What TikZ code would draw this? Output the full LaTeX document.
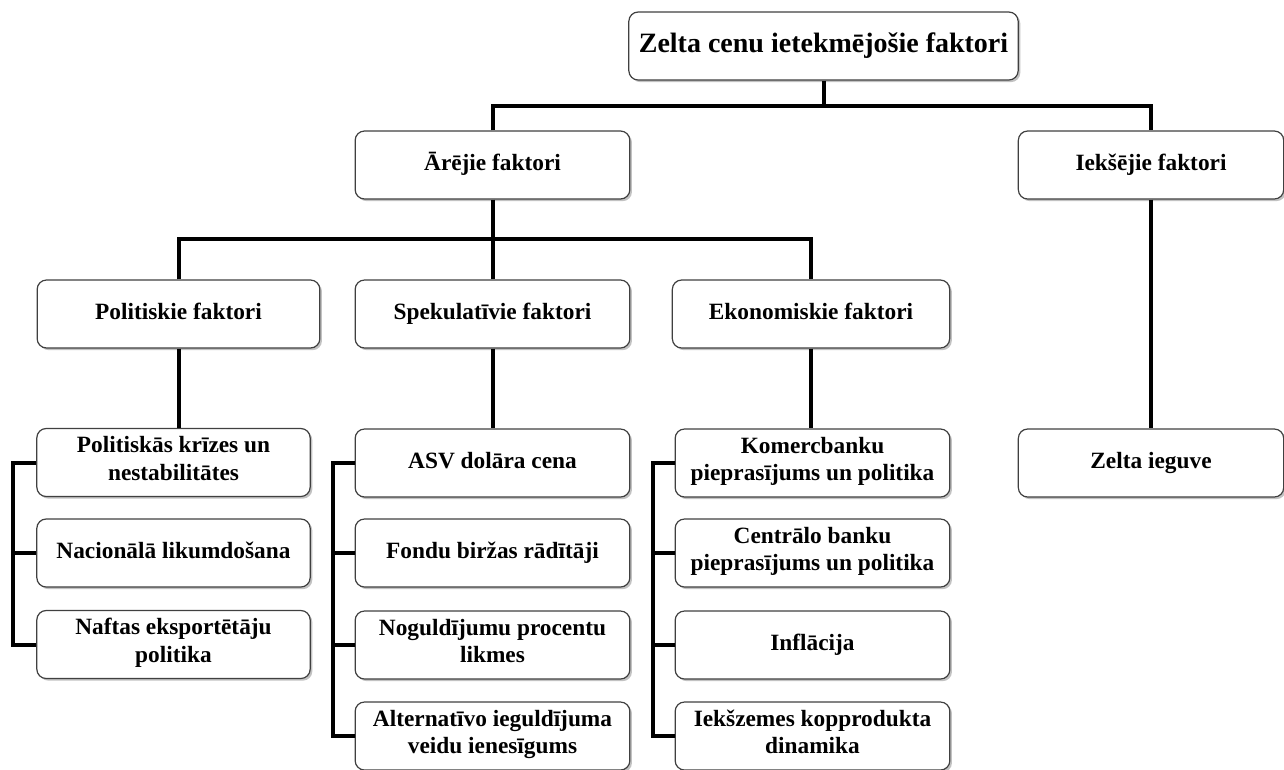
\documentclass[tikz,border=0pt]{standalone}
\usepackage{fontspec}
\setmainfont{Liberation Serif}
\usetikzlibrary{shadows}
\tikzset{
  box/.style={draw=black!75, line width=0.9pt, rounded corners=7pt, fill=white,
    minimum height=51pt, inner sep=2pt, align=center,
    font=\bfseries\fontsize{17.5}{20.5}\selectfont,
    execute at begin node=\strut, execute at end node=\strut,
    drop shadow={shadow xshift=1.6pt, shadow yshift=-1.6pt, fill=black!40, opacity=0.6}},
  conn/.style={line width=3pt, black},
}
\begin{document}
\begin{tikzpicture}[x=0.75pt,y=-0.75pt]
	\useasboundingbox (0,0) rectangle (1284,769);
	\node[box, minimum width=292pt, font=\bfseries\fontsize{21}{25}\selectfont] (top) at (823.5,46) {Zelta cenu ietekmējošie faktori};
	\node[box, minimum width=206pt] (are) at (492.5,165) {Ārējie faktori};
	\node[box, minimum width=199pt] (iek) at (1151,165) {Iekšējie faktori};
	\node[box, minimum width=212pt] (pol) at (178.5,314) {Politiskie faktori};
	\node[box, minimum width=206pt] (spek) at (492.5,314) {Spekulatīvie faktori};
	\node[box, minimum width=208pt] (eko) at (811,314) {Ekonomiskie faktori};
	\node[box, minimum width=205pt] (p1) at (173.5,462.5) {Politiskās krīzes un\\nestabilitātes};
	\node[box, minimum width=205pt] (p2) at (173.5,553) {Nacionālā likumdošana};
	\node[box, minimum width=205pt] (p3) at (173.5,644.5) {Naftas eksportētāju\\politika};
	\node[box, minimum width=206pt] (s1) at (492.5,463) {ASV dolāra cena};
	\node[box, minimum width=206pt] (s2) at (492.5,553) {Fondu biržas rādītāji};
	\node[box, minimum width=206pt] (s3) at (492.5,645) {Noguldījumu procentu\\likmes};
	\node[box, minimum width=206pt] (s4) at (492.5,736) {Alternatīvo ieguldījuma\\veidu ienesīgums};
	\node[box, minimum width=206pt] (k1) at (812.5,463) {Komercbanku\\pieprasījums un politika};
	\node[box, minimum width=206pt] (k2) at (812.5,553) {Centrālo banku\\pieprasījums un politika};
	\node[box, minimum width=206pt] (k3) at (812.5,645) {Inflācija};
	\node[box, minimum width=206pt] (k4) at (812.5,736) {Iekšzemes kopprodukta\\dinamika};
	\node[box, minimum width=199pt] (zi) at (1151,463) {Zelta ieguve};
	\coordinate (jA) at (823.5,106);
	\coordinate (jB) at (492.5,239);
	\draw[conn] (top.south) -- (jA);
	\draw[conn] (are.north) |- (jA) -| (iek.north);
	\draw[conn] (are.south) -- (jB);
	\draw[conn] (pol.north) |- (jB) -| (eko.north);
	\draw[conn] (spek.north) -- (jB);
	\draw[conn] (pol.south) -- (pol.south |- p1.north);
	\draw[conn] (spek.south) -- (s1.north);
	\draw[conn] (eko.south) -- (eko.south |- k1.north);
	\draw[conn] (iek.south) -- (zi.north);
	\draw[conn] (p1.west) -- ++(-23,0) |- (p3.west);
	\draw[conn] (p2.west) -- ++(-23,0);
	\draw[conn] (s1.west) -- ++(-22,0) |- (s4.west);
	\draw[conn] (s2.west) -- ++(-22,0);
	\draw[conn] (s3.west) -- ++(-22,0);
	\draw[conn] (k1.west) -- ++(-22,0) |- (k4.west);
	\draw[conn] (k2.west) -- ++(-22,0);
	\draw[conn] (k3.west) -- ++(-22,0);
\end{tikzpicture}
\end{document}
